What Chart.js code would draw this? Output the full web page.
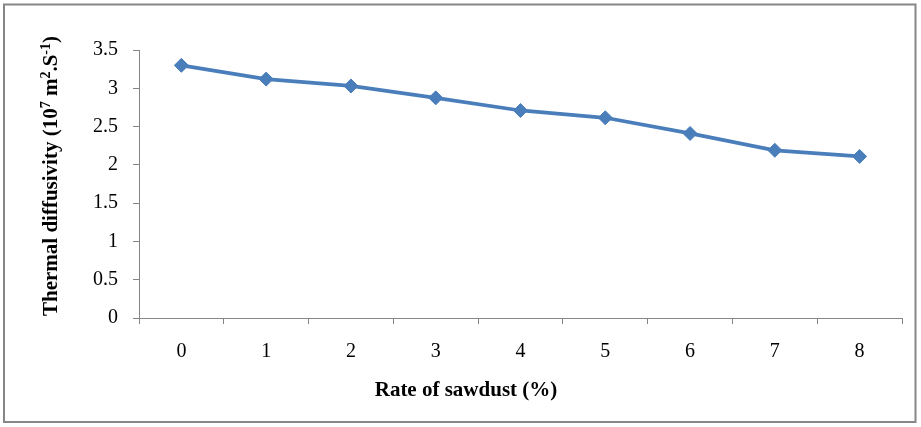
<!DOCTYPE html>
<html>
<head>
<meta charset="utf-8">
<script src="https://cdn.jsdelivr.net/npm/chart.js@4"></script>
<style>
    html, body { margin: 0; padding: 0; background: #fff; }
    #wrap { width: 921px; height: 427px; position: relative; }
</style>
</head>
<body>
<div id="wrap"><canvas id="chart"></canvas></div>
<script>
// data
const sawdustRates = ['0', '1', '2', '3', '4', '5', '6', '7', '8'];
const diffusivity = [3.30, 3.12, 3.03, 2.875, 2.71, 2.615, 2.41, 2.19, 2.11];
const yTicks = [0, 0.5, 1, 1.5, 2, 2.5, 3, 3.5];

const axisGray = '#868686';
const lineBlue = '#4a7ebb';

// frame + axis titles (y title has superscripts, so draw it by hand)
const titlesPlugin = {
    id: 'titles',
    beforeDraw(chart) {
        const ctx = chart.ctx;
        ctx.save();
        ctx.fillStyle = '#fff';
        ctx.fillRect(0, 0, chart.width, chart.height);
        ctx.strokeStyle = axisGray;
        ctx.lineWidth = 2;
        ctx.strokeRect(4, 4.5, 911.5, 417.5);
        ctx.restore();
    },
    afterDraw(chart) {
        const ctx = chart.ctx;
        const big = 'bold 21px "Liberation Serif", "Times New Roman", serif';
        const small = 'bold 14px "Liberation Serif", "Times New Roman", serif';
        ctx.save();
        ctx.fillStyle = '#000';
        ctx.textBaseline = 'alphabetic';

        ctx.font = big;
        ctx.textAlign = 'center';
        ctx.fillText('Rate of sawdust (%)', 466, 396);

        // y title, pieces: [text, superscript?]
        const parts = [
            ['Thermal diffusivity (10', false],
            ['7', true],
            [' m', false],
            ['2', true],
            ['.S', false],
            ['-1', true],
            [')', false]
        ];
        let total = 0;
        parts.forEach(p => {
            ctx.font = p[1] ? small : big;
            total += ctx.measureText(p[0]).width;
        });
        ctx.translate(57, 176);
        ctx.rotate(-Math.PI / 2);
        ctx.textAlign = 'left';
        let x = -total / 2;
        parts.forEach(p => {
            ctx.font = p[1] ? small : big;
            ctx.fillText(p[0], x, p[1] ? -7 : 0);
            x += ctx.measureText(p[0]).width;
        });
        ctx.restore();
    }
};

new Chart(document.getElementById('chart'), {
    type: 'line',
    data: {
        labels: sawdustRates,
        datasets: [{
            data: diffusivity,
            borderColor: lineBlue,
            backgroundColor: lineBlue,
            borderWidth: 3.75,
            tension: 0,
            pointStyle: 'rectRot',
            pointRadius: 7,
            pointHoverRadius: 7,
            pointBorderWidth: 1,
            pointBorderColor: lineBlue,
            pointBackgroundColor: lineBlue
        }]
    },
    options: {
        responsive: true,
        maintainAspectRatio: false,
        animation: false,
        layout: { padding: { top: 50, right: 19, bottom: 0, left: 0 } },
        plugins: {
            legend: { display: false },
            tooltip: { enabled: false }
        },
        scales: {
            x: {
                offset: true,
                grid: {
                    offset: true,
                    drawOnChartArea: false,
                    drawTicks: true,
                    tickLength: 6,
                    color: axisGray
                },
                border: { display: true, color: axisGray, width: 1 },
                ticks: {
                    color: '#000',
                    padding: 16,
                    font: { family: '"Liberation Serif", "Times New Roman", serif', size: 20 }
                },
                afterFit: (scale) => { scale.height = 109; }
            },
            y: {
                min: 0,
                max: 3.5,
                afterBuildTicks: (scale) => {
                    scale.ticks = yTicks.map(v => ({ value: v }));
                },
                grid: {
                    drawOnChartArea: false,
                    drawTicks: true,
                    tickLength: 6,
                    color: axisGray
                },
                border: { display: true, color: axisGray, width: 1 },
                ticks: {
                    color: '#000',
                    padding: 15,
                    font: { family: '"Liberation Serif", "Times New Roman", serif', size: 20 },
                    callback: (v) => String(v)
                },
                afterFit: (scale) => { scale.width = 139; }
            }
        }
    },
    plugins: [titlesPlugin]
});
</script>
</body>
</html>
